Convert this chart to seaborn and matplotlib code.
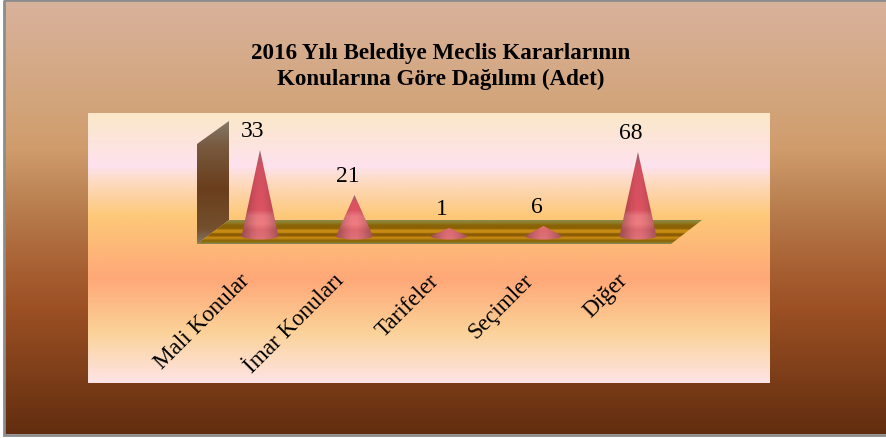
import numpy as np
import pandas as pd
import matplotlib
matplotlib.use("Agg")
import matplotlib.pyplot as plt
import matplotlib.transforms as mtrans
from matplotlib.colors import LinearSegmentedColormap
from matplotlib.patches import PathPatch, Polygon, Rectangle
from matplotlib.path import Path
import seaborn as sns

# ---- data ----
categories = ["Mali Konular", "İmar Konuları", "Tarifeler", "Seçimler", "Diğer"]
values = [33, 21, 1, 6, 68]
# drawn cone heights (the picture's cones are not proportional to the labels)
cone_heights = [86, 41, 8, 10, 84]

title_lines = "2016 Yılı Belediye Meclis Kararlarının\nKonularına Göre Dağılımı (Adet)"

W, H = 886, 439
sns.set_theme(style="white")
plt.rcParams["font.family"] = ["Liberation Serif", "DejaVu Serif"]
fig = plt.figure(figsize=(W / 100, H / 100), dpi=100, facecolor="white")


def fig_axes(x0, y0, x1, y1, **kw):
    return fig.add_axes([x0 / W, 1 - y1 / H, (x1 - x0) / W, (y1 - y0) / H], **kw)


def ramp(stops):
    return LinearSegmentedColormap.from_list("r", stops, N=512)


grad = np.linspace(0, 1, 512)[:, None]

# page background
bg = fig_axes(0, 0, W, H)
bg.set_xlim(0, W)
bg.set_ylim(H, 0)
bg.axis("off")
page = ramp([(0, "#d9b29c"), (0.226, "#d2a57c"), (0.342, "#d09c6c"), (0.457, "#bb8252"),
             (0.596, "#aa6436"), (0.711, "#9c5024"), (0.85, "#80401a"), (1, "#622d0f")])
bg.imshow(grad, cmap=page, aspect="auto", extent=(5, W, 435, 2), zorder=0)
bg.add_patch(Rectangle((4, 1), W + 10, 435, fill=False, ec="#8c8c8c", lw=2, zorder=1))
panel = ramp([(0, "#fbe8c8"), (0.196, "#fee2ee"), (0.244, "#fddcc8"), (0.381, "#fdc878"),
              (0.615, "#ffa878"), (0.811, "#fbd298"), (1, "#fee4e6")])
bg.imshow(grad, cmap=panel, aspect="auto", extent=(88, 770, 384, 114), zorder=2)
bg.set_xlim(0, W)
bg.set_ylim(H, 0)

# plotting axes: 1 y unit = 1 px, category spacing 94.5 px
top_px, bot_px, base_px = 114, 262, 237
ax = fig_axes(88, top_px, 770, bot_px)
ax.patch.set_alpha(0)
frame = pd.DataFrame({"cat": categories, "h": cone_heights})
sns.barplot(data=frame, x="cat", y="h", width=0.39, ax=ax, color="#d85868")
xlim = ((88 - 260) / 94.5, (770 - 260) / 94.5)
ylim = (base_px - bot_px, base_px - top_px)
ax.set_xlim(*xlim)
ax.set_ylim(*ylim)
ax.set_xlabel("")
ax.set_ylabel("")
ax.set_yticks([])
for s in ax.spines.values():
    s.set_visible(False)
ax.tick_params(axis="x", length=0, pad=6)
ax.set_xticks(range(len(categories)), categories, rotation=45, ha="right",
              rotation_mode="anchor", fontsize=16.7, color="black")
shift = mtrans.ScaledTranslation(-21 / 100, 0, fig.dpi_scale_trans)
for lab in ax.get_xticklabels():
    lab.set_transform(lab.get_transform() + shift)


def px_x(p):
    return (p - 260) / 94.5


def px_y(p):
    return base_px - p


def gimg(stops, extent, z, clip):
    im = ax.imshow(grad, cmap=ramp(stops), aspect="auto", extent=extent, zorder=z)
    im.set_clip_path(clip)
    return im


# back wall
wall = Polygon([(px_x(197), px_y(145)), (px_x(229), px_y(122)), (px_x(229), px_y(221)),
                (px_x(197), px_y(245))], closed=True, fc="none", ec="none",
               transform=ax.transData)
ax.add_patch(wall)
gimg([(0, "#85796a"), (0.2, "#785a40"), (0.55, "#6a3e1c"), (0.88, "#74502e"), (1, "#807a68")],
     (px_x(197), px_x(229), px_y(245), px_y(122)), 2, wall)

# striped floor
floor = Polygon([(px_x(229), px_y(221)), (px_x(702), px_y(221)), (px_x(671), px_y(245)),
                 (px_x(197), px_y(245))], closed=True, fc="none", ec="none",
                transform=ax.transData)
ax.add_patch(floor)
gimg([(0, "#8c8a50"), (0.12, "#8f7c22"), (0.22, "#8a6208"), (0.36, "#8c6206"), (0.42, "#c88c14"),
      (0.52, "#c88c14"), (0.57, "#8c5c04"), (0.66, "#8c5c04"), (0.71, "#c4860f"), (0.78, "#c08610"),
      (0.84, "#8a6208"), (0.95, "#8c7a20"), (1, "#8c8c70")],
     (px_x(197), px_x(702), px_y(245), px_y(221)), 3, floor)

# cones built from the bars seaborn laid out
shade = np.array([0.72, 0.82, 0.93, 1.0, 1.0, 0.94, 0.84, 0.74])
cone_y = np.array([-4, 6, 12, 20, 26, 40, 90])
cone_rgb = np.array([(0xde, 0x72, 0x78), (0xdc, 0x68, 0x70), (0xee, 0x7c, 0x80), (0xea, 0x78, 0x80),
                     (0xdc, 0x54, 0x62), (0xd8, 0x50, 0x60), (0xcc, 0x50, 0x60)]) / 255
tip_rgb = np.array([0.55, 0.40, 0.45])
for i, bar in enumerate(list(ax.patches)):
    if not isinstance(bar, Rectangle) or bar.get_height() == 0:
        continue
    cx = bar.get_x() + bar.get_width() / 2
    hw = bar.get_width() / 2
    h = bar.get_height()
    bar.set_visible(False)
    t = np.linspace(np.pi, 2 * np.pi, 24)
    ex = cx + hw * np.cos(t)
    ey = 3.5 * np.sin(t)
    verts = [(cx, h)] + list(zip(ex, ey)) + [(cx, h)]
    codes = [Path.MOVETO] + [Path.LINETO] * (len(verts) - 2) + [Path.CLOSEPOLY]
    patch = PathPatch(Path(verts, codes), fc="none", ec="none", transform=ax.transData)
    ax.add_patch(patch)
    # colour by height above the base, darkened towards the flanks and the tip
    ys = np.linspace(h, -4, 128)
    col = np.stack([np.interp(ys, cone_y, cone_rgb[:, c]) for c in range(3)], axis=1)
    if h > 20:
        tipw = np.clip((ys - 0.82 * h) / (0.18 * h), 0, 1)[:, None]
        col = col * (1 - tipw) + tip_rgb * tipw
    side = np.interp(np.linspace(0, 1, 64), np.linspace(0, 1, len(shade)), shade)
    rgb = col[:, None, :] * side[None, :, None]
    im = ax.imshow(rgb, aspect="auto", extent=(cx - hw, cx + hw, -4, h), zorder=4)
    im.set_clip_path(patch)
    ax.annotate(str(values[i]), (cx, h), xytext=(-7, 19), textcoords="offset pixels",
                ha="center", va="center", fontsize=17, color="black", zorder=6)

ax.set_xlim(*xlim)
ax.set_ylim(*ylim)

# title
bg.text(441, 66.5, title_lines, ha="center", va="center", fontsize=16.6, fontweight="bold",
        color="black", linespacing=1.3, zorder=5)

fig.savefig("out.png", dpi=100)
